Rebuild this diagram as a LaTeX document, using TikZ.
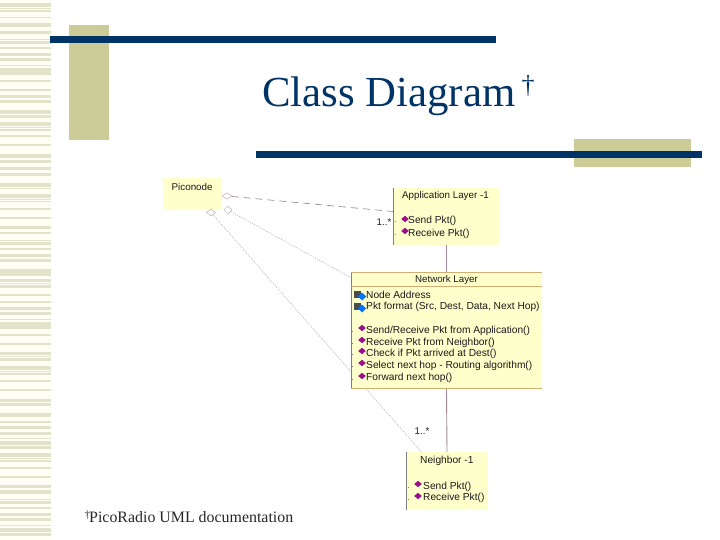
\documentclass[tikz,border=0pt]{standalone}
\usepackage{fontspec}
\setmainfont{Liberation Serif}
\setsansfont{Liberation Sans}
\usetikzlibrary{shapes.geometric}
\pgfdeclarelayer{bg}
\pgfsetlayers{bg,main}
\definecolor{navy}{HTML}{003366}
\definecolor{khaki}{HTML}{CCCC99}
\definecolor{stripe}{HTML}{E3E3CB}
\definecolor{cream}{HTML}{FFFFF6}
\definecolor{classfill}{HTML}{FFFFCC}
\definecolor{tan}{HTML}{D2AE72}
\definecolor{linkc}{HTML}{A08898}
\definecolor{opc}{HTML}{99108C}
\newcommand{\opd}[2]{\fill[opc] (#1-3.8,#2) -- (#1,#2-3.2) -- (#1+3.8,#2) -- (#1,#2+3.2) -- cycle;\fill[black!50] (#1-10.5,#2+2.5) rectangle (#1-9.5,#2+3.5);}
\newcommand{\attd}[2]{\fill[black!70] (#1-5,#2-4) rectangle (#1+2,#2+3);\fill[blue!55!cyan] (#1-1,#2+1.5) -- (#1+3,#2-2.5) -- (#1+7,#2+1.5) -- (#1+3,#2+5.5) -- cycle;}
\tikzset{
  cls/.style={anchor=north west,fill=classfill,inner sep=0pt,outer sep=0pt},
  lbl/.style={anchor=west,inner sep=0pt,font=\sffamily\fontsize{10.2}{11}\selectfont,text=black!90},
  ctr/.style={anchor=center,inner sep=0pt,font=\sffamily\fontsize{9.7}{11}\selectfont,text=black!90},
  agg/.style={draw=linkc!70,fill=white,diamond,inner sep=0pt,line width=0.5pt},
  dashlink/.style={draw=linkc,line width=0.7pt,dash pattern=on 7pt off 5pt},
  dotlink/.style={draw=linkc!80,line width=0.5pt,dash pattern=on 1.2pt off 1.2pt},
  solidlink/.style={draw=linkc,line width=0.9pt},
}
\begin{document}
\begin{tikzpicture}[x=1pt,y=-1pt]
\useasboundingbox (0,0) rectangle (720,540);
\fill[cream] (0,0) rectangle (52,540);
\foreach \a/\b in {3/7,8/9,10/12,17/18.5,23/27,31/34,39/40,41/44,47/49,53/56,58/61,65/66,68/75,80/82,89/91,95/98,100/103,110/114,115/118,122/126,127/128,129/131,135/137,144/146,154/158,160/163,167/170,173/176,183/187,188/189,194/198,199/200,201/202,208/210,217/219,226/229,232/234,240/241,242/245,248/250,254/257,259/262,269/276,279/282,283/284,285/288,294/296,301/303,307/310,312/315,319/320,322/329,334/336,343/345,352/355,356/357,358/361,366/370,371/372,373/375,380/382,389/391,399/402,403/406,413/417,421/423,426/429,432/435,438/439,441/445,446/449,453/457,458/459,460/462,467/469,476/478,485/488,490/494,499/500,501/504,507/509,513/516,518/521,525/526,528/532,533/536}
  \fill[stripe] (0,\a) rectangle (51,\b);
\fill[khaki] (69,25) rectangle (109,140);
\fill[khaki] (574,139) rectangle (691,167);
\fill[navy] (50,36) rectangle (496,43);
\fill[navy] (256,151) rectangle (702,158);
\node[anchor=base west,inner sep=0pt,text=navy,font=\fontsize{42.8}{50}\selectfont] (title) at (262,107) {Class Diagram};
\node[anchor=base,inner sep=0pt,text=navy,font=\fontsize{26}{30}\selectfont] (dag) at (528,94) {†};
\node[anchor=base west,inner sep=0pt,text=black!85,font=\fontsize{11}{12}\selectfont] (fdag) at (84.5,518) {†};
\node[anchor=base west,inner sep=0pt,text=black!85,font=\fontsize{15.9}{18}\selectfont] (foot) at (89,522) {PicoRadio UML documentation};
% class boxes
\node[cls,minimum width=59pt,minimum height=31pt] (pico) at (163,178) {};
\node[cls,minimum width=107pt,minimum height=57pt] (app) at (393,188) {};
\node[cls,minimum width=191pt,minimum height=116pt] (net) at (351,272) {};
\node[cls,minimum width=82pt,minimum height=58pt] (nei) at (406,452) {};
\draw[black!50,line width=0.6pt] (app.north west) -- (app.south west);
\draw[black!50,line width=0.6pt] (net.north west) -- (net.south west);
\draw[black!50,line width=0.6pt] (nei.north west) -- (nei.south west);
\draw[tan,line width=0.9pt] (net.north west) -- (net.north east);
\draw[tan,line width=0.9pt] (351,286) -- (542,286);
\draw[tan,line width=0.9pt] (net.south west) -- (net.south east);
% aggregation ends
\node[agg,minimum width=10pt,minimum height=6.5pt] (pd1) at (227,196) {};
\node[agg,minimum width=8pt,minimum height=8pt] (pd2) at (228,210) {};
\node[agg,minimum width=9pt,minimum height=7pt] (pd3) at (211,212.5) {};
\begin{pgfonlayer}{bg}
\draw[dashlink] (pd1) -- (app);
\draw[dotlink] (pd2) -- (net);
\draw[dotlink] (pd3) -- (nei);
\draw[solidlink] (app.south) -- (net.north);
\draw[solidlink] (net.south) -- (nei.north);
\end{pgfonlayer}
% texts
\node[lbl,font=\sffamily\fontsize{9.8}{11}\selectfont] (tp) at (171.5,187) {Piconode};
\node[lbl,font=\sffamily\fontsize{9.8}{11}\selectfont] (ta) at (402,196) {Application Layer -1};
\node[lbl] (ta1) at (408,221) {Send Pkt()};
\node[lbl] (ta2) at (408,234) {Receive Pkt()};
\node[ctr] (tm1) at (384,222) {1..*};
\node[ctr] (tn) at (446.5,280) {Network Layer};
\node[lbl] (tn1) at (366,295) {Node Address};
\node[lbl] (tn2) at (366,307) {Pkt format (Src, Dest, Data, Next Hop)};
\node[lbl] (tn3) at (366,331) {Send/Receive Pkt from Application()};
\node[lbl] (tn4) at (366,343) {Receive Pkt from Neighbor()};
\node[lbl] (tn5) at (366,354) {Check if Pkt arrived at Dest()};
\node[lbl] (tn6) at (366,366) {Select next hop - Routing algorithm()};
\node[lbl] (tn7) at (366,378) {Forward next hop()};
\node[ctr] (tm2) at (422,431) {1..*};
\node[lbl] (tb) at (420,461) {Neighbor -1};
\node[lbl] (tb1) at (423,487) {Send Pkt()};
\node[lbl] (tb2) at (423,498) {Receive Pkt()};
% icons
\opd{405}{219}\opd{405}{231}
\attd{359}{295}\attd{359}{307}
\opd{362}{328}\opd{362}{340}\opd{362}{351}\opd{362}{363}\opd{362}{376}
\opd{418}{484}\opd{418}{496}
\end{tikzpicture}
\end{document}
